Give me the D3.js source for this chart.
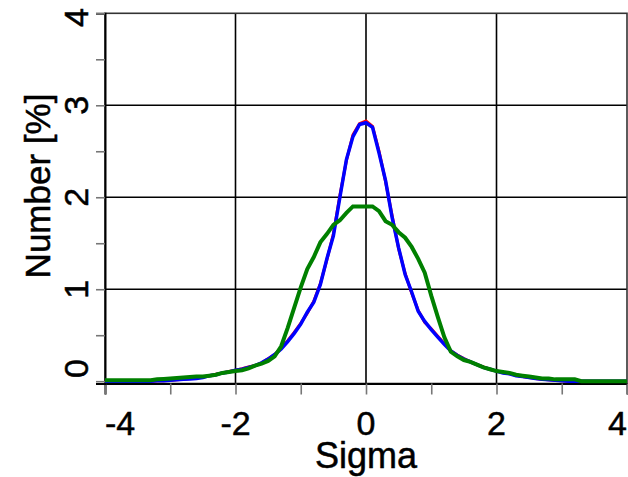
<!DOCTYPE html>
<html>
<head>
<meta charset="utf-8">
<script src="https://cdn.jsdelivr.net/npm/d3@7"></script>
<style>
  html, body { margin: 0; padding: 0; background: #ffffff; }
  svg { display: block; }
  text { font-family: "Liberation Sans", Arial, sans-serif; fill: #000; stroke: #000; stroke-width: 0.5px; }
</style>
</head>
<body>
<div id="chart"></div>
<script>
// ---- data ----
const sigma = d3.range(-40, 41).map(i => +(i / 10).toFixed(1));

const blueValues = [
  0, 0, 0, 0, 0, 0, 0, 0, 0.005, 0.005,          // -4.0 .. -3.1
  0.01, 0.015, 0.02, 0.025, 0.03, 0.04, 0.06, 0.07, 0.09, 0.10, // -3.0 .. -2.1
  0.12, 0.13, 0.15, 0.17, 0.20, 0.24, 0.29, 0.35, 0.43, 0.52,   // -2.0 .. -1.1
  0.62, 0.75, 0.86, 1.05, 1.33, 1.58, 2.00, 2.41, 2.66, 2.79,   // -1.0 .. -0.1
  2.81,                                                         // 0
  2.76, 2.48, 2.18, 1.78, 1.45, 1.16, 0.97, 0.76, 0.65, 0.56,   // 0.1 .. 1.0
  0.48, 0.40, 0.33, 0.28, 0.24, 0.21, 0.18, 0.15, 0.13, 0.11,   // 1.1 .. 2.0
  0.09, 0.08, 0.06, 0.05, 0.04, 0.03, 0.02, 0.015, 0.01, 0.005, // 2.1 .. 3.0
  0, 0, 0, 0, 0, 0, 0, 0, 0, 0                                  // 3.1 .. 4.0
];

const redValues = [
  0, 0, 0, 0, 0, 0, 0, 0, 0.005, 0.005,
  0.01, 0.015, 0.02, 0.03, 0.035, 0.045, 0.06, 0.075, 0.09, 0.105,
  0.12, 0.135, 0.155, 0.17, 0.20, 0.245, 0.29, 0.36, 0.44, 0.53,
  0.63, 0.74, 0.87, 1.06, 1.32, 1.60, 2.02, 2.40, 2.68, 2.80,
  2.83,
  2.77, 2.50, 2.17, 1.80, 1.44, 1.17, 0.96, 0.77, 0.64, 0.57,
  0.49, 0.41, 0.33, 0.285, 0.245, 0.21, 0.18, 0.155, 0.13, 0.11,
  0.095, 0.08, 0.065, 0.05, 0.04, 0.03, 0.02, 0.015, 0.01, 0.005,
  0, 0, 0, 0, 0, 0, 0, 0, 0, 0
];

const greenValues = [
  0.01, 0.01, 0.01, 0.01, 0.01, 0.01, 0.01, 0.01, 0.02, 0.025,  // -4.0 .. -3.1
  0.03, 0.035, 0.04, 0.045, 0.05, 0.05, 0.06, 0.07, 0.09, 0.10, // -3.0 .. -2.1
  0.11, 0.12, 0.14, 0.17, 0.19, 0.22, 0.27, 0.38, 0.58, 0.80,   // -2.0 .. -1.1
  1.02, 1.22, 1.35, 1.51, 1.60, 1.70, 1.75, 1.83, 1.90, 1.90,   // -1.0 .. -0.1
  1.90,                                                         // 0
  1.90, 1.85, 1.74, 1.70, 1.62, 1.56, 1.46, 1.33, 1.18, 0.93,   // 0.1 .. 1.0
  0.70, 0.48, 0.32, 0.27, 0.23, 0.21, 0.18, 0.15, 0.13, 0.11,   // 1.1 .. 2.0
  0.10, 0.09, 0.07, 0.06, 0.05, 0.04, 0.03, 0.03, 0.02, 0.02,   // 2.1 .. 3.0
  0.02, 0.02, 0, 0, 0, 0, 0, 0, 0, 0                            // 3.1 .. 4.0
];

const xTickLabels = [-4, -2, 0, 2, 4];
const yTickLabels = [0, 1, 2, 3, 4];
const xMinorTicks = [-4, -3, -2, -1, 0, 1, 2, 3, 4];
const yMinorTicks = [0, 0.5, 1, 1.5, 2, 2.5, 3, 3.5, 4];
const xTitle = "Sigma";
const yTitle = "Number [%]";

(function () {
  // ---- layout ----
  const W = 628, H = 477;
  const pL = 105, pR = 627, pT = 13.3, pB = 383.5;

  const svg = d3.select("#chart").append("svg")
    .attr("width", W).attr("height", H);

  const x = d3.scaleLinear().domain([-4, 4]).range([pL, pR]);
  const y = d3.scaleLinear().domain([-0.025, 4]).range([pB, pT]);

  // grid lines
  const g = svg.append("g");
  g.selectAll("line.vg").data([-2, 0, 2]).join("line")
    .attr("class", "vg")
    .attr("x1", d => x(d)).attr("x2", d => x(d))
    .attr("y1", pT).attr("y2", pB)
    .attr("stroke", "#000").attr("stroke-width", 1.6);
  g.selectAll("line.hg").data([1, 2, 3]).join("line")
    .attr("class", "hg")
    .attr("x1", pL).attr("x2", pR)
    .attr("y1", d => y(d)).attr("y2", d => y(d))
    .attr("stroke", "#000").attr("stroke-width", 1.6);

  // frame
  svg.append("rect")
    .attr("x", pL).attr("y", pT)
    .attr("width", pR - pL).attr("height", pB - pT)
    .attr("fill", "none").attr("stroke", "#333").attr("stroke-width", 1.6);

  // axes
  const xAxis = d3.axisBottom(x).tickValues(xMinorTicks).tickSize(11).tickFormat("");
  const gx = svg.append("g").attr("transform", `translate(0,${pB})`).call(xAxis);
  gx.select(".domain").attr("stroke", "#000").attr("stroke-width", 2);
  gx.selectAll(".tick line").attr("stroke", "#777").attr("stroke-width", 1.6);

  const yAxis = d3.axisLeft(y).tickValues(yMinorTicks).tickSize(9).tickFormat("");
  const gy = svg.append("g").attr("transform", `translate(${pL},0)`).call(yAxis);
  gy.select(".domain").attr("stroke", "#000").attr("stroke-width", 2);
  gy.selectAll(".tick line").attr("stroke", "#777").attr("stroke-width", 1.6);

  // lines
  const line = d3.line().x((d, i) => x(sigma[i])).y(d => y(d));
  const series = [
    { values: redValues, color: "#ff0000", width: 3 },
    { values: blueValues, color: "#0000ff", width: 3.5 },
    { values: greenValues, color: "#008000", width: 4 }
  ];
  svg.selectAll("path.series").data(series).join("path")
    .attr("class", "series")
    .attr("d", d => line(d.values))
    .attr("fill", "none")
    .attr("stroke", d => d.color)
    .attr("stroke-width", d => d.width)
    .attr("stroke-linejoin", "miter");

  // x tick labels (kept inside the plot span)
  const xl = svg.append("g").selectAll("text").data(xTickLabels).join("text")
    .attr("y", 435)
    .attr("font-size", 34)
    .attr("text-anchor", "middle")
    .text(d => d);
  xl.each(function (d) {
    const w = this.getComputedTextLength();
    const cx = Math.max(pL + w / 2, Math.min(pR - w / 2, x(d)));
    d3.select(this).attr("x", cx);
  });

  // y tick labels (rotated)
  const yl = svg.append("g").selectAll("text").data(yTickLabels).join("text")
    .attr("font-size", 34)
    .attr("text-anchor", "middle")
    .text(d => d);
  yl.each(function (d) {
    const w = this.getComputedTextLength();
    const cy = Math.max(8 + w / 2, Math.min(378 - w / 2, y(d)));
    d3.select(this).attr("transform", `translate(88,${cy}) rotate(-90)`);
  });

  // axis titles
  svg.append("text")
    .attr("x", x(0)).attr("y", 468)
    .attr("font-size", 36)
    .attr("text-anchor", "middle")
    .text(xTitle);

  svg.append("text")
    .attr("transform", `translate(50,${(95 + 277) / 2}) rotate(-90)`)
    .attr("font-size", 35)
    .attr("text-anchor", "middle")
    .text(yTitle);
})();
</script>
</body>
</html>
